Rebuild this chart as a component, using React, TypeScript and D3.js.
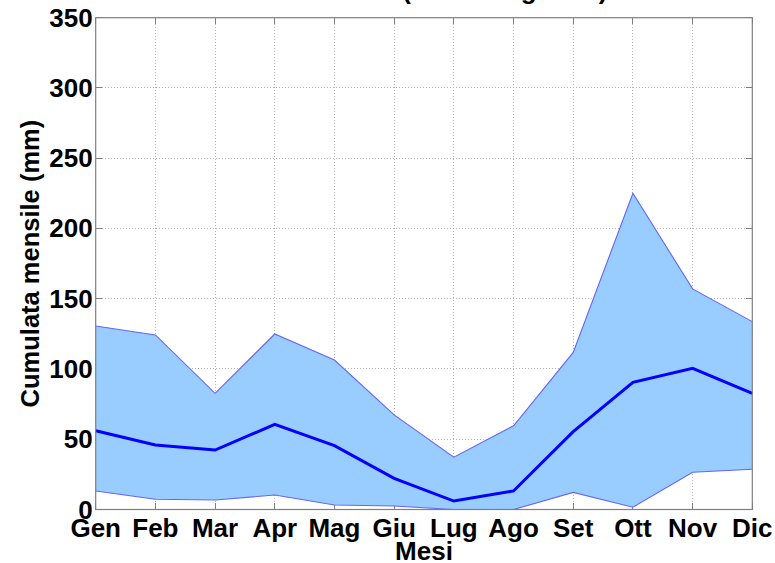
import React from "react";
import * as d3 from "d3";

const months = ["Gen", "Feb", "Mar", "Apr", "Mag", "Giu", "Lug", "Ago", "Set", "Ott", "Nov", "Dic"];
const upperValues = [130.6, 124.2, 82.7, 124.9, 106.4, 67.3, 37.2, 59.6, 111.8, 225.1, 157.0, 133.7];
const meanValues = [56.1, 45.9, 42.3, 60.6, 45.4, 22.2, 6.0, 13.2, 55.4, 90.5, 100.5, 82.7];
const lowerValues = [13.2, 7.3, 6.8, 10.3, 3.2, 2.5, 0.0, 0.0, 12.2, 1.6, 26.5, 28.6];
const yTicks = [0, 50, 100, 150, 200, 250, 300, 350];
const titleText = "Stazione Est (Monte Bignone)";
const xLabel = "Mesi";
const yLabel = "Cumulata mensile (mm)";

const W = 775;
const H = 563;
const L = 95.7;
const R = 752.3;
const T = 17.7;
const B = 509.5;
const FONT = "'Liberation Sans', Arial, Helvetica, sans-serif";

export default function App() {
  const x = d3.scalePoint<string>().domain(months).range([L, R]);
  const y = d3.scaleLinear().domain([0, 350]).range([B, T]);

  const idx = months.map((_, i) => i);
  const area = d3
    .area<number>()
    .x((i) => x(months[i]) as number)
    .y0((i) => y(lowerValues[i]))
    .y1((i) => y(upperValues[i]));
  const lineOf = (vals: number[]) =>
    d3
      .line<number>()
      .x((i) => x(months[i]) as number)
      .y((i) => y(vals[i]))(idx) as string;

  const axisColor = "#7f7f7f";
  const gridColor = "#b4b4b4";
  const tickLen = 6.5;

  return (
    <svg width={W} height={H} style={{ position: "absolute", left: 0, top: 0, background: "#fff" }}>
      <rect x={0} y={0} width={W} height={H} fill="#fff" />
      {/* title (cropped at top) */}
      <text x={(L + R) / 2} y={-1} textAnchor="middle" fontFamily={FONT} fontWeight="bold" fontSize={26} fill="#000">
        {titleText}
      </text>
      {/* grid */}
      <g stroke={gridColor} strokeWidth={1} strokeDasharray="1,2" shapeRendering="crispEdges">
        {months.slice(1, -1).map((m) => (
          <line key={m} x1={x(m)} x2={x(m)} y1={T} y2={B} />
        ))}
        {yTicks.slice(1, -1).map((v) => (
          <line key={v} x1={L} x2={R} y1={y(v)} y2={y(v)} />
        ))}
      </g>
      {/* ticks */}
      <g stroke={axisColor} strokeWidth={1} shapeRendering="crispEdges">
        {months.map((m) => (
          <g key={m}>
            <line x1={x(m)} x2={x(m)} y1={B} y2={B - tickLen} />
            <line x1={x(m)} x2={x(m)} y1={T} y2={T + tickLen} />
          </g>
        ))}
        {yTicks.map((v) => (
          <g key={v}>
            <line x1={L} x2={L + tickLen} y1={y(v)} y2={y(v)} />
            <line x1={R} x2={R - tickLen} y1={y(v)} y2={y(v)} />
          </g>
        ))}
      </g>
      {/* band */}
      <path d={area(idx) as string} fill="#99ccff" stroke="none" />
      <path d={lineOf(upperValues)} fill="none" stroke="#6464ff" strokeWidth={1.1} />
      <path d={lineOf(lowerValues)} fill="none" stroke="#6464ff" strokeWidth={1.1} />
      <path d={lineOf(meanValues)} fill="none" stroke="#0000ff" strokeWidth={3} strokeLinejoin="miter" />
      {/* box */}
      <rect x={L} y={T} width={R - L} height={B - T} fill="none" stroke={axisColor} strokeWidth={1.2} />
      {/* tick labels */}
      <g fontFamily={FONT} fontWeight="bold" fontSize={26} fill="#000">
        {months.map((m) => (
          <text key={m} x={x(m)} y={B + 27.5} textAnchor="middle">
            {m}
          </text>
        ))}
        {yTicks.map((v) => (
          <text key={v} x={L - 3} y={y(v) + 9} textAnchor="end">
            {v}
          </text>
        ))}
      </g>
      <text x={(L + R) / 2} y={B + 50} textAnchor="middle" fontFamily={FONT} fontWeight="bold" fontSize={26} fill="#000">
        {xLabel}
      </text>
      <text
        transform={`translate(38.5, ${(T + B) / 2}) rotate(-90)`}
        textAnchor="middle"
        fontFamily={FONT}
        fontWeight="bold"
        fontSize={25.5}
        fill="#000"
      >
        {yLabel}
      </text>
    </svg>
  );
}
